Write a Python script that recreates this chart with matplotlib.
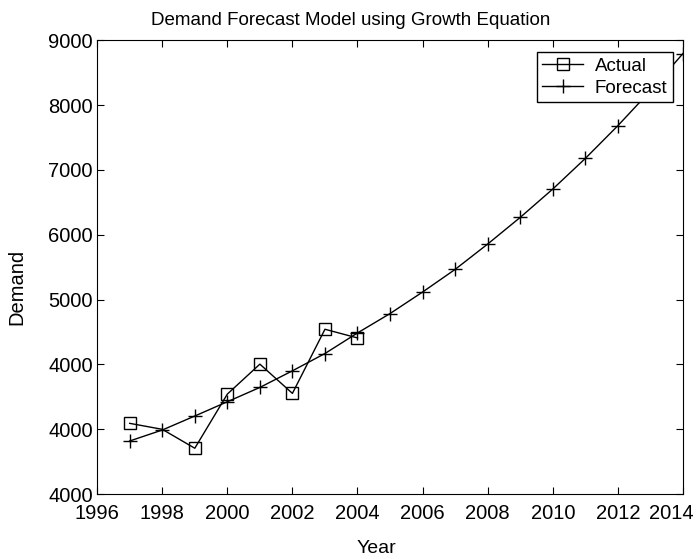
import matplotlib
matplotlib.use('Agg')
import matplotlib.pyplot as plt
import matplotlib.transforms as mtransforms

plt.rcParams['font.family'] = ['Liberation Sans', 'DejaVu Sans']

# actual demand (1998 point has no visible marker in the reference)
actual_years = [1997, 1998, 1999, 2000, 2001, 2002, 2003, 2004]
actual_demand = [3092, 3000, 2708, 3543, 4005, 3554, 4543, 4409]

# forecast from the growth equation
forecast_years = list(range(1997, 2015))
forecast_demand = [2820, 2989, 3205, 3425, 3646, 3902, 4169, 4486, 4785,
                   5117, 5466, 5857, 6268, 6705, 7177, 7682, 8220, 8794]

x_ticks = list(range(1996, 2015, 2))
y_ticks = list(range(2000, 9001, 1000))
y_tick_labels = ['4000', '4000', '4000', '5000', '6000', '7000', '8000', '9000']

fig = plt.figure(figsize=(6.99, 5.59), dpi=100)
ax = fig.add_axes([0.139, 0.116, 0.838, 0.812])

ax.plot(actual_years, actual_demand, 'k-', marker='s', markersize=9,
        markerfacecolor='none', markeredgewidth=1, linewidth=1,
        markevery=[0, 2, 3, 4, 5, 6, 7], label='Actual')
ax.plot(forecast_years, forecast_demand, 'k-', marker='+', markersize=10,
        markeredgewidth=1, linewidth=1, label='Forecast')

ax.set_xlim(1996, 2014)
ax.set_ylim(2000, 9000)
ax.set_xticks(x_ticks)
ax.set_yticks(y_ticks)
ax.set_yticklabels(y_tick_labels)
ax.tick_params(direction='in', top=True, right=True, labelsize=14.5, length=5)
ax.tick_params(axis='x', pad=7)
ax.tick_params(axis='y', pad=3)

# last year label sits a little left so it stays inside the figure
last = ax.get_xticklabels()[-1]
last.set_transform(last.get_transform() +
                   mtransforms.ScaledTranslation(-12 / 100, 0, fig.dpi_scale_trans))

fig.text(0.502, 0.964, 'Demand Forecast Model using Growth Equation',
         fontsize=13.5, ha='center', va='center')
ax.set_xlabel('Year', fontsize=14)
ax.set_ylabel('Demand', fontsize=14.5)
ax.xaxis.set_label_coords(0.476, -0.100)
ax.yaxis.set_label_coords(-0.121, 0.456)

leg = ax.legend(loc='upper right', bbox_to_anchor=(0.983, 0.974), fontsize=13.5,
                fancybox=False, framealpha=1, edgecolor='black', borderaxespad=0,
                handlelength=2.2, borderpad=0.3, labelspacing=0.25,
                handletextpad=0.6)
leg.get_frame().set_linewidth(1)

fig.savefig('out.png', dpi=100)
